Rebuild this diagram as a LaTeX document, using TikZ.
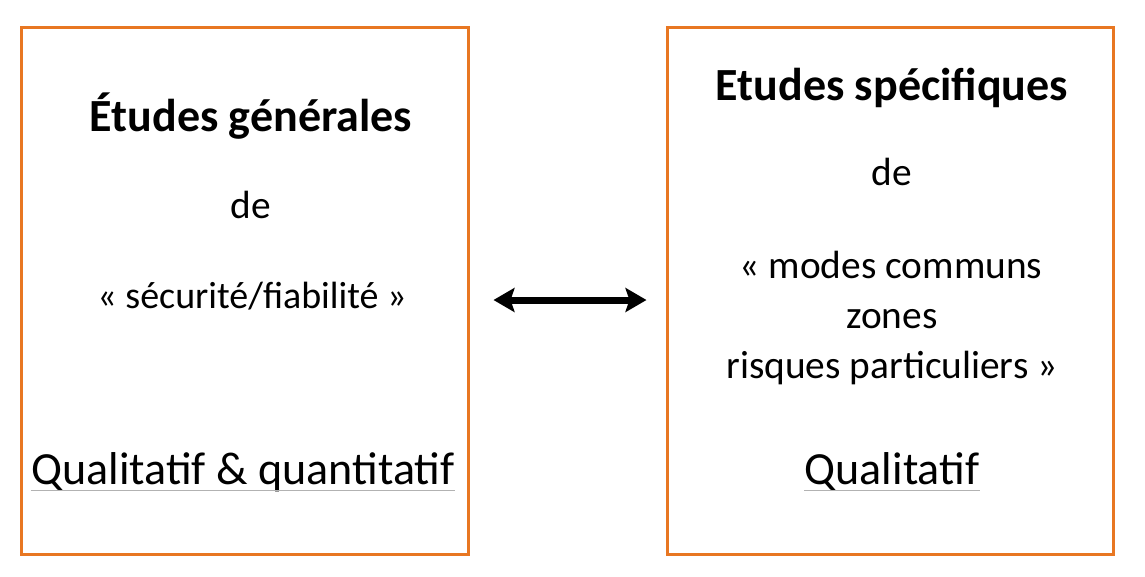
\documentclass[tikz,border=0pt]{standalone}
\usepackage{fontspec}
\setmainfont{Carlito}
\usetikzlibrary{arrows.meta}
\definecolor{boxorange}{RGB}{232,119,34}

\begin{document}
\begin{tikzpicture}[
  box/.style={draw=boxorange, line width=0.3mm, minimum width=4.46cm, minimum height=5.27cm, inner sep=0pt},
  title/.style={font=\fontsize{13.1}{15}\selectfont\bfseries, inner sep=0pt, anchor=base},
  txt/.style={font=\fontsize{11.2}{13}\selectfont, inner sep=0pt, anchor=base},
  big/.style={font=\fontsize{13.1}{15}\selectfont, inner sep=0pt, anchor=base},
  uline/.style={draw=gray!60, line width=0.1mm},
  biarrow/.style={line width=0.7mm, {Stealth[length=2.1mm,width=2.4mm,inset=0.4mm]}-{Stealth[length=2.1mm,width=2.4mm,inset=0.4mm]}}
]
\useasboundingbox (0,0) rectangle (11.45,5.76);

% the two boxes
\node [box] (gen) at (2.45,2.855) {};
\node [box] (spec) at (8.90,2.855) {};

% left box
\node [title] (gtitle) at (2.51,4.45) {Études générales};
\node [txt] (gde) at (2.51,3.58) {de};
\node [txt, font=\fontsize{10.8}{13}\selectfont] (gsec) at (2.52,2.68) {« sécurité/fiabilité »};
\node [big] (gqual) at (2.43,0.92) {Quali\kern0pt tatif \& quan\kern0pt ti\kern0pt tatif};
\draw [uline] ([yshift=-0.6mm]gqual.base west) -- ([yshift=-0.6mm]gqual.base east);

% right box
\node [title] (stitle) at (8.92,4.76) {Etudes spécifiques};
\node [txt] (sde) at (8.92,3.91) {de};
\node [txt] (smodes) at (8.91,2.98) {« modes communs};
\node [txt] (szones) at (8.92,2.48) {zones};
\node [txt] (srisques) at (8.92,1.98) {risques particuliers »};
\node [big] (squal) at (8.92,0.92) {Quali\kern0pt tatif};
\draw [uline] ([yshift=-0.6mm]squal.base west) -- ([yshift=-0.6mm]squal.base east);

\draw [biarrow, shorten <=2.4mm, shorten >=1.9mm] ([yshift=-0.95mm]gen.east) -- ([yshift=-0.95mm]spec.west);
\end{tikzpicture}
\end{document}
